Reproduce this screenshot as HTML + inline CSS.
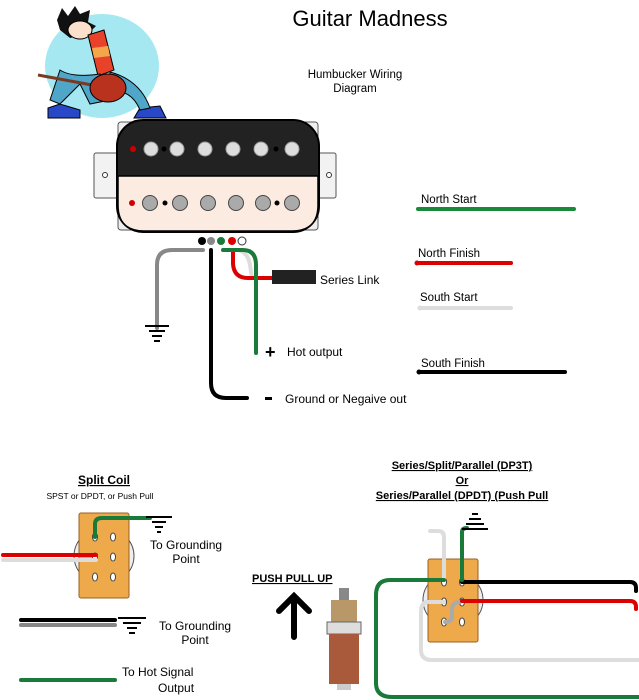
<!DOCTYPE html>
<html><head><meta charset="utf-8"><style>
body{margin:0;background:#fff}
svg{display:block}
text{font-family:"Liberation Sans",Arial,sans-serif;fill:#000}
</style></head><body>
<svg width="639" height="700" viewBox="0 0 639 700" xmlns="http://www.w3.org/2000/svg">
<!-- cartoon -->
<ellipse cx="102" cy="66" rx="57" ry="52" fill="#a6e8f2"/>
<path d="M57 20 L62 8 L68 16 L75 6 L80 14 L90 10 L88 22 L96 26 L88 34 L70 38 L60 30 Z" fill="#111"/>
<ellipse cx="80" cy="30" rx="12" ry="9" fill="#fbe1cc" stroke="#000"/>
<path d="M88 35 L104 30 L114 70 L98 76 Z" fill="#e8432a" stroke="#000"/>
<path d="M92 48 L108 46 L110 56 L94 58 Z" fill="#f5a54a"/>
<path d="M60 70 Q72 78 100 74 L110 100 L90 104 L80 84 L60 104 L50 100 Z" fill="#4fa6c8" stroke="#000"/>
<path d="M60 104 L48 108 L48 118 L80 118 L80 110 Z" fill="#2948c8" stroke="#000"/>
<path d="M140 108 L160 106 L166 118 L134 118 Z" fill="#2948c8" stroke="#000"/>
<path d="M110 72 Q140 80 150 108 L140 110 Q132 90 110 90 Z" fill="#4fa6c8" stroke="#000"/>
<line x1="38" y1="75" x2="92" y2="85" stroke="#7a3a20" stroke-width="3"/>
<ellipse cx="108" cy="88" rx="18" ry="14" fill="#b8321e" stroke="#000"/>
<!-- title -->
<text x="370" y="26" font-size="22" text-anchor="middle">Guitar Madness</text>
<text x="355" y="78" font-size="11.5" text-anchor="middle">Humbucker Wiring</text>
<text x="355" y="92" font-size="11.5" text-anchor="middle">Diagram</text>
<!-- pickup -->
<rect x="94" y="153" width="242" height="45" rx="2" fill="#f2f2f2" stroke="#555"/>
<circle cx="105" cy="175" r="2.5" fill="#fff" stroke="#333"/>
<circle cx="329" cy="175" r="2.5" fill="#fff" stroke="#333"/>
<rect x="118" y="122" width="200" height="108" rx="3" fill="#eee" stroke="#555"/>
<rect x="117" y="120" width="202" height="112" rx="26" fill="#222" stroke="#000" stroke-width="2"/>
<path d="M118 176 L318 176 L318 205 Q318 231 292 231 L144 231 Q118 231 118 205 Z" fill="#fbebe0" stroke="#000" stroke-width="1.5"/>
<circle cx="133" cy="149" r="3" fill="#c00"/>
<g fill="#ddd" stroke="#999"><circle cx="151" cy="149" r="7"/><circle cx="177" cy="149" r="7"/><circle cx="205" cy="149" r="7"/><circle cx="233" cy="149" r="7"/><circle cx="261" cy="149" r="7"/><circle cx="292" cy="149" r="7"/></g>
<circle cx="164" cy="149" r="2.5" fill="#000"/><circle cx="276" cy="149" r="2.5" fill="#000"/>
<circle cx="132" cy="203" r="3" fill="#c00"/>
<g fill="#aaa" stroke="#444"><circle cx="150" cy="203" r="7.5"/><circle cx="180" cy="203" r="7.5"/><circle cx="208" cy="203" r="7.5"/><circle cx="236" cy="203" r="7.5"/><circle cx="263" cy="203" r="7.5"/><circle cx="292" cy="203" r="7.5"/></g>
<circle cx="165" cy="203" r="2.5" fill="#000"/><circle cx="277" cy="203" r="2.5" fill="#000"/>
<!-- wire dots -->
<circle cx="202" cy="241" r="4" fill="#000"/><circle cx="211" cy="241" r="4" fill="#888"/><circle cx="221" cy="241" r="4" fill="#1a7a3a"/><circle cx="232" cy="241" r="4" fill="#d00"/><circle cx="242" cy="241" r="4" fill="#fff" stroke="#333"/>
<!-- wires -->
<g fill="none" stroke-width="4" stroke-linecap="round">
<path d="M203 250 L172 250 Q157 250 157 265 L157 328" stroke="#888"/>
<path d="M238 250 Q248 252 250 265 L252 278 L272 278" stroke="#ddd"/>
<path d="M233 250 L233 264 Q234 278 248 278 L272 278" stroke="#d00"/>
<path d="M211 250 L211 383 Q211 398 226 398 L247 398" stroke="#000"/>
<path d="M223 250 L243 250 Q256 250 256 265 L256 353" stroke="#1a7a3a"/>
</g>
<rect x="272" y="270" width="44" height="14" fill="#222"/>
<g stroke="#000" stroke-width="2"><line x1="145" y1="326" x2="169" y2="326"/><line x1="149" y1="331" x2="165" y2="331"/><line x1="152" y1="336" x2="162" y2="336"/><line x1="154" y1="341" x2="160" y2="341"/></g>
<text x="320" y="284" font-size="12">Series Link</text>
<text x="265" y="358" font-size="18" font-weight="bold">+</text><text x="287" y="356" font-size="12">Hot output</text>
<rect x="265" y="397" width="7" height="3" fill="#000"/><text x="285" y="403" font-size="12">Ground or Negaive out</text>
<!-- legend -->
<g stroke-width="4" stroke-linecap="round">
<line x1="418" y1="209" x2="574" y2="209" stroke="#1a8a3a"/>
<line x1="418" y1="263" x2="511" y2="263" stroke="#d00"/>
<line x1="421" y1="308" x2="511" y2="308" stroke="#ddd"/>
<line x1="420" y1="372" x2="565" y2="372" stroke="#000"/>
</g>
<circle cx="417" cy="263" r="2.5" fill="#d00"/><circle cx="420" cy="308" r="2.5" fill="#ddd"/><circle cx="419" cy="372" r="2.5" fill="#000"/>
<text x="421" y="203" font-size="11.5">North Start</text>
<text x="418" y="257" font-size="11.5">North Finish</text>
<text x="420" y="301" font-size="11.5">South Start</text>
<text x="421" y="367" font-size="11.5">South Finish</text>
<!-- split coil -->
<text x="104" y="484" font-size="12" font-weight="bold" text-anchor="middle" text-decoration="underline">Split Coil</text>
<text x="100" y="499" font-size="8.5" text-anchor="middle">SPST or DPDT, or Push Pull</text>
<ellipse cx="104" cy="556" rx="30" ry="28" fill="#eee" stroke="#555"/>
<rect x="79" y="513" width="50" height="85" rx="2" fill="#eda94a" stroke="#9a6020"/>
<g fill="#fff" stroke="#444"><ellipse cx="95" cy="537" rx="2.5" ry="4"/><ellipse cx="113" cy="537" rx="2.5" ry="4"/><ellipse cx="95" cy="557" rx="2.5" ry="4"/><ellipse cx="113" cy="557" rx="2.5" ry="4"/><ellipse cx="95" cy="577" rx="2.5" ry="4"/><ellipse cx="113" cy="577" rx="2.5" ry="4"/></g>
<g fill="none" stroke-width="4" stroke-linecap="round">
<path d="M95 537 L95 524 Q95 518 102 518 L150 518" stroke="#1a7a3a"/>
<line x1="3" y1="560" x2="96" y2="560" stroke="#ddd"/>
<line x1="3" y1="555" x2="96" y2="555" stroke="#d00"/>
<line x1="21" y1="625" x2="115" y2="625" stroke="#888"/>
<line x1="21" y1="620" x2="115" y2="620" stroke="#000"/>
<line x1="21" y1="680" x2="115" y2="680" stroke="#1a7a3a"/>
</g>
<g stroke="#000" stroke-width="2"><line x1="146" y1="517" x2="172" y2="517"/><line x1="152" y1="522" x2="166" y2="522"/><line x1="155" y1="527" x2="163" y2="527"/><line x1="157" y1="532" x2="161" y2="532"/>
<line x1="118" y1="618" x2="146" y2="618"/><line x1="123" y1="623" x2="141" y2="623"/><line x1="127" y1="628" x2="137" y2="628"/><line x1="129" y1="633" x2="135" y2="633"/></g>
<text x="150" y="549" font-size="12">To Grounding</text><text x="186" y="563" font-size="12" text-anchor="middle">Point</text>
<text x="159" y="630" font-size="12">To Grounding</text><text x="195" y="644" font-size="12" text-anchor="middle">Point</text>
<text x="122" y="676" font-size="12">To Hot Signal</text><text x="158" y="692" font-size="12">Output</text>
<!-- push pull -->
<text x="252" y="582" font-size="11" font-weight="bold" text-decoration="underline">PUSH PULL UP</text>
<path d="M294 637 L294 596 M279 611 L294 596 L309 611" fill="none" stroke="#000" stroke-width="6" stroke-linecap="round"/>
<rect x="339" y="588" width="10" height="12" fill="#888"/>
<rect x="331" y="600" width="26" height="22" fill="#b89868"/>
<rect x="327" y="622" width="34" height="12" fill="#ddd" stroke="#666"/>
<rect x="329" y="634" width="30" height="50" fill="#a85a3a"/>
<rect x="337" y="684" width="14" height="6" fill="#ccc"/>
<!-- right switch -->
<g font-size="11" font-weight="bold" text-anchor="middle" text-decoration="underline">
<text x="462" y="469">Series/Split/Parallel (DP3T)</text><text x="462" y="484">Or</text><text x="462" y="499">Series/Parallel (DPDT) (Push Pull</text></g>
<ellipse cx="453" cy="600" rx="30" ry="28" fill="#eee" stroke="#555"/>
<rect x="428" y="559" width="50" height="83" rx="2" fill="#eda94a" stroke="#9a6020"/>
<g fill="#fff" stroke="#444"><ellipse cx="444" cy="582" rx="2.5" ry="4"/><ellipse cx="462" cy="582" rx="2.5" ry="4"/><ellipse cx="444" cy="602" rx="2.5" ry="4"/><ellipse cx="462" cy="602" rx="2.5" ry="4"/><ellipse cx="444" cy="622" rx="2.5" ry="4"/><ellipse cx="462" cy="622" rx="2.5" ry="4"/></g>
<g fill="none" stroke-width="4" stroke-linecap="round">
<path d="M430 531 L438 531 Q444 531 444 537 L444 580" stroke="#ddd"/>
<path d="M444 602 L428 602 Q421 602 421 612 L421 650 Q421 660 432 660 L639 660" stroke="#ddd"/>
<path d="M460 602 Q452 602 452 610 L452 616 Q452 622 445 622" stroke="#aaa"/>
<path d="M462 601 L630 601 Q636 601 636 607 L636 609" stroke="#d00"/>
<path d="M462 582 L630 582 Q636 582 636 588 L636 591" stroke="#000"/>
<path d="M462 580 L462 532 Q462 528 467 528" stroke="#1a7a3a"/>
<path d="M444 580 L390 580 Q376 580 376 595 L376 683 Q376 697 392 697 L639 697" stroke="#1a7a3a"/>
</g>
<g stroke="#000" stroke-width="2"><line x1="462" y1="529" x2="488" y2="529"/><line x1="466" y1="524" x2="484" y2="524"/><line x1="469" y1="519" x2="481" y2="519"/><line x1="472" y1="514" x2="478" y2="514"/></g>
</svg>
</body></html>
